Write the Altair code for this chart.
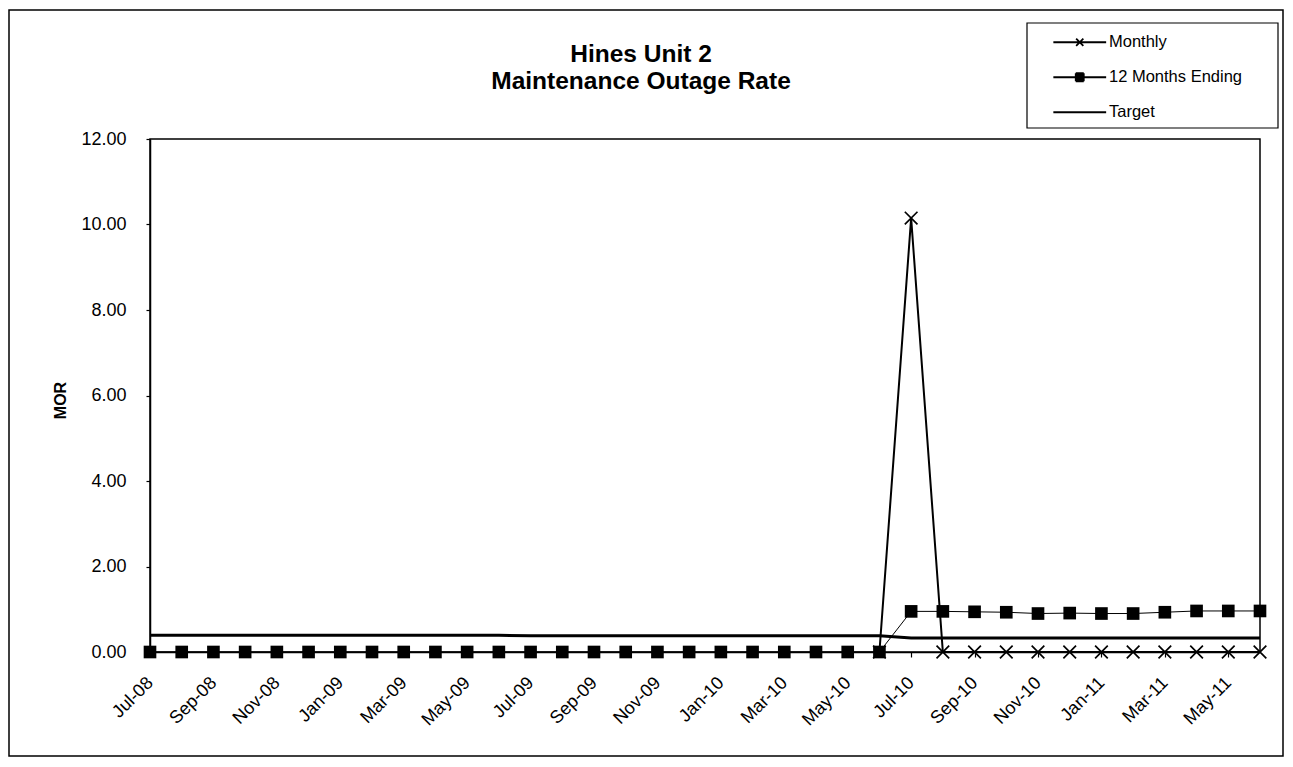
import altair as alt
import pandas as pd

months = ["Jul-08", "Aug-08", "Sep-08", "Oct-08", "Nov-08", "Dec-08",
          "Jan-09", "Feb-09", "Mar-09", "Apr-09", "May-09", "Jun-09",
          "Jul-09", "Aug-09", "Sep-09", "Oct-09", "Nov-09", "Dec-09",
          "Jan-10", "Feb-10", "Mar-10", "Apr-10", "May-10", "Jun-10",
          "Jul-10", "Aug-10", "Sep-10", "Oct-10", "Nov-10", "Dec-10",
          "Jan-11", "Feb-11", "Mar-11", "Apr-11", "May-11", "Jun-11"]

monthly = [None, None, None, None, None, None,
           None, None, None, None, None, None,
           None, None, None, None, None, None,
           None, None, None, None, None, 0.00,
           10.15, 0.00, 0.00, 0.00, 0.00, 0.00,
           0.00, 0.00, 0.00, 0.00, 0.00, 0.00]

twelve_months = [0.00, 0.00, 0.00, 0.00, 0.00, 0.00,
                 0.00, 0.00, 0.00, 0.00, 0.00, 0.00,
                 0.00, 0.00, 0.00, 0.00, 0.00, 0.00,
                 0.00, 0.00, 0.00, 0.00, 0.00, 0.00,
                 0.95, 0.95, 0.94, 0.93, 0.90, 0.91,
                 0.90, 0.90, 0.93, 0.96, 0.96, 0.96]

target = [0.39, 0.39, 0.39, 0.39, 0.39, 0.39,
          0.39, 0.39, 0.39, 0.39, 0.39, 0.39,
          0.38, 0.38, 0.38, 0.38, 0.38, 0.38,
          0.38, 0.38, 0.38, 0.38, 0.38, 0.38,
          0.33, 0.33, 0.33, 0.33, 0.33, 0.33,
          0.33, 0.33, 0.33, 0.33, 0.33, 0.33]

series_names = ["Monthly", "12 Months Ending", "Target"]
tick_labels = months[::2]
y_ticks = [0, 2, 4, 6, 8, 10, 12]

FONT = "Liberation Sans"
W, H = 1110, 513


def frame(name, vals):
    return pd.DataFrame({"month": months, "value": vals, "series": name}).dropna()


df_m = frame("Monthly", monthly)
df_t = frame("12 Months Ending", twelve_months)
df_g = frame("Target", target)

x_enc = alt.X("month:O", sort=months,
              scale=alt.Scale(type="point", padding=0),
              axis=alt.Axis(values=tick_labels, labelAngle=315, labelAlign="right",
                            labelBaseline="middle", labelPadding=23, tickSize=5,
                            title=None, labelFontSize=18, labelFont=FONT))
y_enc = alt.Y("value:Q", scale=alt.Scale(domain=[0, 12], nice=False),
              axis=alt.Axis(values=y_ticks, format=".2f", grid=False, tickSize=4,
                            labelPadding=20, labelFontSize=18, labelFont=FONT,
                            title="MOR", titleFont=FONT, titleFontSize=16,
                            titleFontWeight="bold", titleAngle=270,
                            titleX=-90, titleY=261, titleAlign="center",
                            titleBaseline="middle"))

line_target = alt.Chart(df_g).mark_line(color="black", strokeWidth=3).encode(x=x_enc, y=y_enc)
line_twelve = alt.Chart(df_t).mark_line(color="black", strokeWidth=1).encode(x=x_enc, y=y_enc)
line_month = alt.Chart(df_m).mark_line(color="black", strokeWidth=2).encode(x=x_enc, y=y_enc)

pts_twelve = alt.Chart(df_t).mark_point(shape="square", filled=True, color="black",
                                         size=160, opacity=1).encode(x=x_enc, y=y_enc)
pts_month = alt.Chart(df_m).mark_point(shape="M-1,-1L1,1M-1,1L1,-1", filled=False,
                                        color="black", size=160, strokeWidth=1.7,
                                        opacity=1).encode(x=x_enc, y=y_enc)

# legend symbols: line plus marker (square drawn as dense strokes so it reads as solid)
legend_paths = ["M-6.6,0L6.6,0M-0.9,-0.9L0.9,0.9M-0.9,0.9L0.9,-0.9",
                "M-6.6,0L6.6,0M-1,-1L1,-1M-1,-0.6L1,-0.6M-1,-0.2L1,-0.2"
                "M-1,0.2L1,0.2M-1,0.6L1,0.6M-1,1L1,1M-1,-1L-1,1M1,-1L1,1",
                "M-6.6,0L6.6,0"]
df_leg = pd.DataFrame({"series": series_names, "month": months[0], "value": 0.0})
legend_layer = alt.Chart(df_leg).mark_point(
    opacity=0, size=64, filled=False, color="black", strokeWidth=1.8
).encode(
    x=alt.X("month:O", sort=months), y=alt.Y("value:Q"),
    shape=alt.Shape("series:N",
                    scale=alt.Scale(domain=series_names, range=legend_paths),
                    legend=alt.Legend(title=None, orient="none", legendX=899, legendY=-105,
                                      direction="vertical", symbolSize=64,
                                      symbolOffset=22.5, labelOffset=21,
                                      symbolStrokeColor="black",
                                      symbolStrokeWidth=1.8, symbolOpacity=1,
                                      labelFont=FONT, labelFontSize=16.5, labelColor="black",
                                      rowPadding=18, padding=0, labelLimit=300)))

deco = pd.DataFrame({"k": [0]})
outer_frame = alt.Chart(deco).mark_rect(fillOpacity=0, stroke="black", strokeWidth=1.5).encode(
    x=alt.value(-141), x2=alt.value(1133), y=alt.value(-129), y2=alt.value(617))
legend_box = alt.Chart(deco).mark_rect(fill="white", stroke="black", strokeWidth=1.2).encode(
    x=alt.value(877), x2=alt.value(1128), y=alt.value(-116), y2=alt.value(-11))

chart = alt.layer(
    outer_frame, legend_box, line_target, line_twelve, line_month, pts_twelve, pts_month, legend_layer
).properties(
    width=W, height=H,
    title=alt.Title(["Hines Unit 2", "Maintenance Outage Rate"], font=FONT, fontSize=24.5,
                    fontWeight="bold", color="black", anchor="middle", dx=-64,
                    offset=0, dy=85, lineHeight=27, frame="group"),
    autosize=alt.AutoSizeParams(type="none"),
    padding={"left": 142, "top": 131, "right": 25, "bottom": 107},
    background="white",
).configure_view(stroke="black", strokeWidth=1.5).configure_axis(
    domainColor="black", domainWidth=1.5, tickColor="black", tickWidth=1.2,
    labelColor="black", titleColor="black"
)

chart.save("out.html", embed_options={"renderer": "svg", "actions": False})
